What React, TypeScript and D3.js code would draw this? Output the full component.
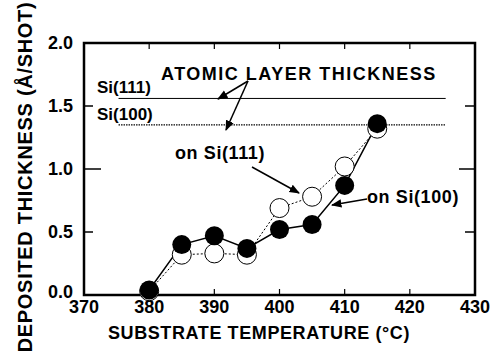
import React from 'react';
import * as d3 from 'd3';

const temps = [380, 385, 390, 395, 400, 405, 410, 415];
const onSi100 = [0.04, 0.4, 0.47, 0.37, 0.52, 0.56, 0.87, 1.36];
const onSi111 = [0.03, 0.32, 0.33, 0.32, 0.69, 0.78, 1.02, 1.32];
const xTicks = [370, 380, 390, 400, 410, 420, 430];
const yTicks = [0, 0.5, 1.0, 1.5, 2.0];
const layer111 = 1.56;
const layer100 = 1.35;

const margin = { top: 43, right: 19, bottom: 59, left: 84 };
const W = 494;
const H = 354;

export default function App() {
  const x = d3.scaleLinear().domain([370, 430]).range([margin.left, W - margin.right]);
  const y = d3.scaleLinear().domain([0, 2]).range([H - margin.bottom, margin.top]);
  const font = '"Liberation Sans", Arial, sans-serif';

  const line = d3.line<number>().x((_, i) => x(temps[i])).y(d => y(d));

  const arrow = (x1: number, y1: number, x2: number, y2: number, key: string) => (
    <line key={key} x1={x1} y1={y1} x2={x2} y2={y2} stroke="#000" strokeWidth={1.5} markerEnd="url(#ah)" />
  );

  return (
    <svg width={W} height={H} style={{ position: 'absolute', left: 0, top: 0, background: '#fff' }}>
      <defs>
        <marker id="ah" viewBox="0 0 10 10" refX="9" refY="5" markerWidth="7" markerHeight="7" orient="auto-start-reverse">
          <path d="M0,1 L10,5 L0,9 Z" fill="#000" />
        </marker>
      </defs>
      <g fontFamily={font} fontWeight="bold">
        {/* frame */}
        <rect x={x(370)} y={y(2)} width={x(430) - x(370)} height={y(0) - y(2)} fill="none" stroke="#000" strokeWidth={2.5} />
        {/* y ticks */}
        {yTicks.map(t => (
          <g key={'y' + t}>
            {t > 0 && t < 2 && (
              <>
                <line x1={x(370)} x2={x(370) + (t === 1 ? 17 : 9)} y1={y(t)} y2={y(t)} stroke="#000" strokeWidth={1.5} />
                <line x1={x(430) - (t === 1 ? 16 : 10)} x2={x(430)} y1={y(t)} y2={y(t)} stroke="#000" strokeWidth={1.5} />
              </>
            )}
            <text x={x(370) - 11} y={y(t) + (t === 0 ? 3 : 6)} textAnchor="end" fontSize={18}>{t.toFixed(1)}</text>
          </g>
        ))}
        {/* x ticks */}
        {xTicks.map(t => (
          <g key={'x' + t}>
            {t > 370 && t < 430 && (
              <>
                <line x1={x(t)} x2={x(t)} y1={y(2)} y2={y(2) + 6} stroke="#000" strokeWidth={1.2} />
                <line x1={x(t)} x2={x(t)} y1={y(0)} y2={y(0) - 6} stroke="#000" strokeWidth={1.2} />
              </>
            )}
            <text x={x(t)} y={y(0) + 18} textAnchor="middle" fontSize={18}>{t}</text>
          </g>
        ))}
        {/* atomic layer thickness lines */}
        <line x1={x(375.3)} x2={x(425.5)} y1={y(layer111)} y2={y(layer111)} stroke="#000" strokeWidth={1} />
        <line x1={x(375.3)} x2={x(425.5)} y1={y(layer100)} y2={y(layer100)} stroke="#000" strokeWidth={1.2} strokeDasharray="1.5 1" />
        <text x={97} y={y(layer111) - 5} fontSize={17}>Si(111)</text>
        <text x={97} y={y(layer100) - 5} fontSize={17}>Si(100)</text>
        <text x={161} y={80} fontSize={18} letterSpacing={1.5}>ATOMIC LAYER THICKNESS</text>
        {arrow(248, 81, 218, 99, 'a1')}
        {arrow(248, 81, 226, 130, 'a2')}
        {/* series */}
        <path d={line(onSi111) || ''} fill="none" stroke="#000" strokeWidth={1} strokeDasharray="2 2" />
        <path d={line(onSi100) || ''} fill="none" stroke="#000" strokeWidth={1.5} />
        {onSi111.map((v, i) => (
          <circle key={'o' + i} cx={x(temps[i])} cy={y(v)} r={9.5} fill="#fff" stroke="#000" strokeWidth={1} />
        ))}
        {onSi100.map((v, i) => (
          <circle key={'f' + i} cx={x(temps[i])} cy={y(v)} r={9.5} fill="#000" />
        ))}
        <text x={175} y={159} fontSize={18} letterSpacing={0.6}>on Si(111)</text>
        {arrow(252, 167, 299, 193, 'a3')}
        <text x={367} y={203} fontSize={18} letterSpacing={0.6}>on Si(100)</text>
        {arrow(367, 199, 332, 205, 'a4')}
        {/* axis titles */}
        <text x={259} y={339} textAnchor="middle" fontSize={18} letterSpacing={0.6}>SUBSTRATE TEMPERATURE (°C)</text>
        <text transform="translate(32,177) rotate(-90)" textAnchor="middle" fontSize={20} letterSpacing={0.7}>DEPOSITED THICKNESS (Å/SHOT)</text>
      </g>
    </svg>
  );
}
